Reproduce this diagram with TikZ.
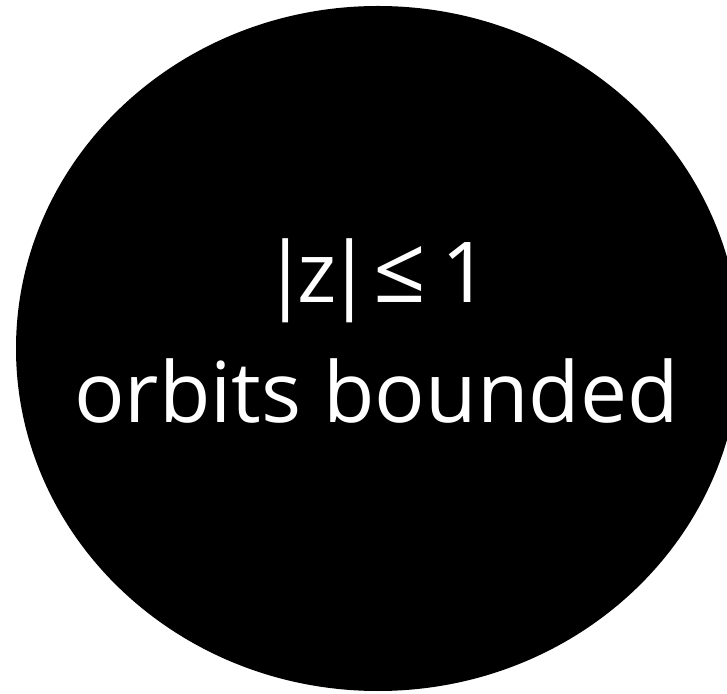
\documentclass[tikz,border=0pt]{standalone}
\usepackage{fontspec}
\setmainfont{Open Sans}
\usetikzlibrary{shapes.geometric}
\tikzset{
  disk/.style={ellipse, fill=black, draw=none, inner sep=0pt, minimum width=724pt, minimum height=685pt},
  lbl/.style={text=white, inner sep=0pt, anchor=base, font=\fontsize{84}{110}\selectfont}
}
\begin{document}
\begin{tikzpicture}
\useasboundingbox (0,0) rectangle (727pt,693pt);
\clip (0,0) rectangle (727pt,693pt);
\node[disk] (d) at (378pt,344.5pt) {};
\node[lbl] (b1) at (285.5pt,390pt) {|};
\node[lbl] (z) at (317.5pt,390pt) {z};
\node[lbl] (b2) at (349.5pt,390pt) {|};
\node[lbl] (le) at (400pt,390pt) {\scalebox{1.1}{≤}};
\node[lbl] (one) at (465.5pt,390pt) {1};
\node[lbl] (l2) at (376.5pt,270pt) {orbits bounded};
\end{tikzpicture}
\end{document}
